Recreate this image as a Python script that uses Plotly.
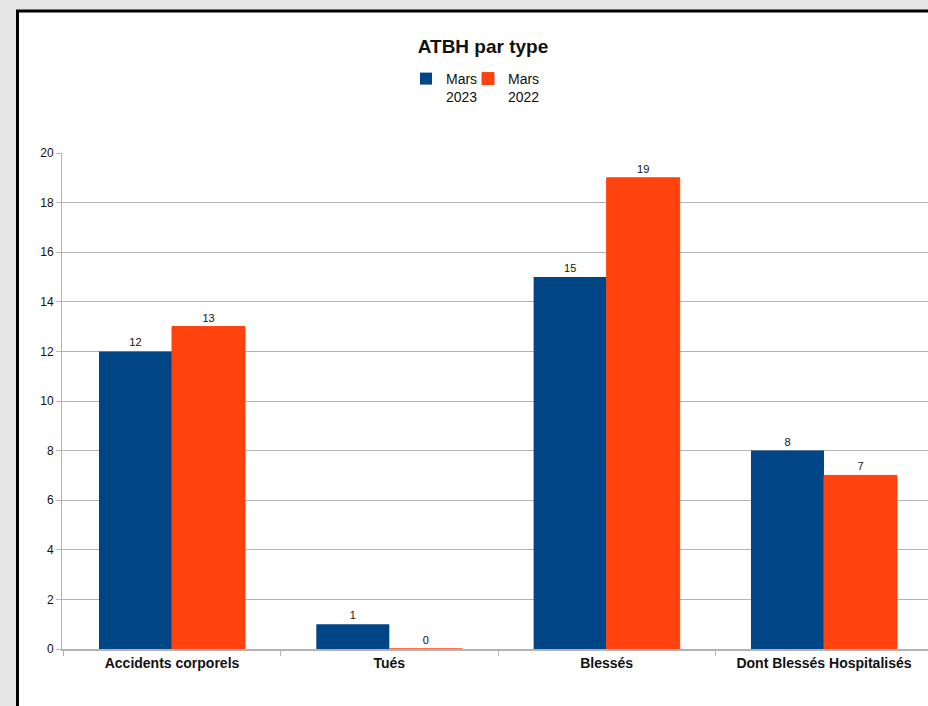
import plotly.graph_objects as go

categories = ["Accidents corporels", "Tués", "Blessés", "Dont Blessés Hospitalisés"]
series_names = ["Mars<br>2023", "Mars<br>2022"]
mars_2023 = [12, 1, 15, 8]
mars_2022 = [13, 0, 19, 7]
y_ticks = [0, 2, 4, 6, 8, 10, 12, 14, 16, 18, 20]

W, H = 928, 706
L, R_PIX, T, B_PIX = 62, 928, 153, 649
pw, ph = R_PIX - L, B_PIX - T
CAT_W = 217.33
FIRST_CENTER = 172

def px_x(p):
    return (p - L) / pw

def px_y(p):
    return (B_PIX - p) / ph

FONT = "Liberation Sans, Arial, sans-serif"
colors = ["#004586", "#ff420e"]
legend_ids = ["legend", "legend2"]

fig = go.Figure()
for name, vals, c, lg in zip(series_names, [mars_2023, mars_2022], colors, legend_ids):
    fig.add_trace(go.Bar(
        x=categories, y=vals, name=name, legend=lg,
        marker=dict(color=c, line=dict(width=1 if c == "#ff420e" else 0, color=c)),
        text=[str(v) for v in vals], textposition="outside",
        textfont=dict(family=FONT, size=11, color="#111111"),
        cliponaxis=False,
    ))

x0 = -(FIRST_CENTER - L) / CAT_W

legend_common = dict(orientation="h", xanchor="left", y=px_y(63), yanchor="top",
                     font=dict(family=FONT, size=14, color="#111111"), valign="top",
                     bgcolor="rgba(0,0,0,0)", itemwidth=30)

fig.update_layout(
    width=W, height=H,
    margin=dict(l=L, r=W - R_PIX, t=T, b=H - B_PIX, autoexpand=False),
    paper_bgcolor="#e6e6e6",
    plot_bgcolor="rgba(0,0,0,0)",
    barmode="group", bargap=0.328, bargroupgap=0,
    font=dict(family=FONT, color="#111111"),
    title=dict(text="ATBH par type", x=483 / W, xanchor="center", xref="container",
               y=1 - 46 / H, yanchor="middle", yref="container",
               font=dict(family=FONT, size=19, color="#111111", weight="bold")),
    legend=dict(x=px_x(406), **legend_common),
    legend2=dict(x=px_x(468), **legend_common),
    showlegend=True,
    shapes=[dict(type="rect", xref="paper", yref="paper",
                 x0=px_x(17.5), x1=px_x(1000), y0=px_y(800), y1=px_y(11),
                 fillcolor="white", line=dict(color="black", width=3), layer="below")],
)

fig.update_xaxes(
    range=[x0, x0 + pw / CAT_W],
    tickson="boundaries", ticks="outside", ticklen=5, tickcolor="#b3b3b3",
    showline=True, linecolor="#b3b3b3", linewidth=2, showgrid=False,
    tickfont=dict(family=FONT, size=14, color="#111111", weight="bold"),
)
fig.update_yaxes(
    range=[0, 20], tickvals=y_ticks, ticks="outside", ticklen=5, tickcolor="#b3b3b3",
    showline=True, linecolor="#b3b3b3", linewidth=1, showgrid=True, gridcolor="#b3b3b3",
    zeroline=False, tickfont=dict(family=FONT, size=12, color="#111111"),
)

fig.write_html("out.html", config={"displayModeBar": False},
               post_script="document.body.style.margin='0';document.body.style.overflow='hidden';")
